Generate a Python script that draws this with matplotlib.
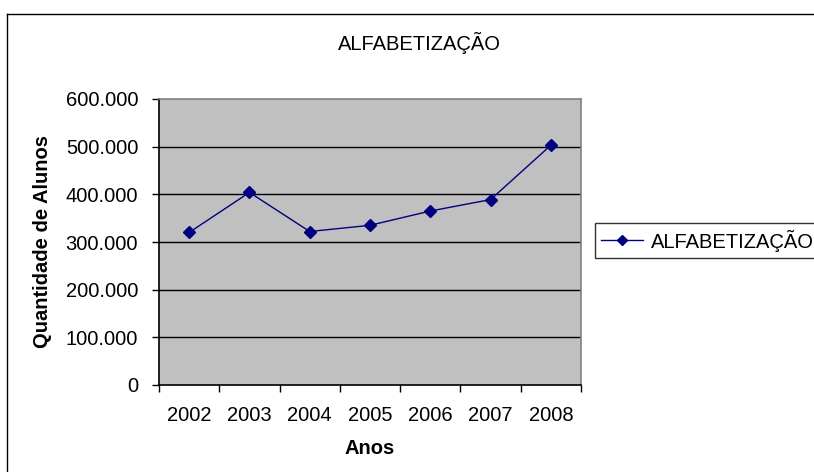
import matplotlib
matplotlib.use("Agg")
import matplotlib.pyplot as plt
from matplotlib.lines import Line2D
from matplotlib.ticker import FuncFormatter, FixedLocator

plt.rcParams['font.family'] = ['Liberation Sans', 'DejaVu Sans']

anos = ['2002', '2003', '2004', '2005', '2006', '2007', '2008']
alunos = [320000, 404000, 322000, 335000, 365000, 389000, 503000]
serie = 'ALFABETIZAÇÃO'
titulo = 'ALFABETIZAÇÃO'
yticks = [0, 100000, 200000, 300000, 400000, 500000, 600000]

W, H = 814, 472
FS = 14.5
fig = plt.figure(figsize=(W / 100, H / 100), dpi=100)
fig.patch.set_facecolor('white')

# outer chart frame (left and top edges visible)
fig.add_artist(Line2D([7 / W, 7 / W], [0, 1 - 14 / H], color='black', lw=1.0, transform=fig.transFigure))
fig.add_artist(Line2D([7 / W, 1], [1 - 14 / H, 1 - 14 / H], color='black', lw=1.0, transform=fig.transFigure))

ax = fig.add_axes([159 / W, 1 - 385 / H, 422 / W, 286 / H])
ax.set_facecolor('#C0C0C0')

x = list(range(len(anos)))
line, = ax.plot(x, alunos, color='#000080', lw=1.0, marker='D', markersize=6,
                markerfacecolor='#000080', markeredgecolor='#000080', label=serie, zorder=3)

ax.set_xlim(-0.5, len(anos) - 0.5)
ax.set_ylim(0, 600000)
ax.set_yticks(yticks)
ax.yaxis.set_major_formatter(FuncFormatter(lambda v, p: '0' if v == 0 else f'{int(v):,}'.replace(',', '.')))
ax.set_xticks(x)
ax.set_xticklabels(anos)
ax.xaxis.set_minor_locator(FixedLocator([i - 0.5 for i in range(len(anos) + 1)]))
ax.tick_params(axis='x', which='major', length=0, pad=15, labelsize=FS)
ax.tick_params(axis='x', which='minor', length=5, width=1, color='black', direction='out')
ax.tick_params(axis='y', length=5, width=1, color='black', direction='out', pad=10, labelsize=FS)

for v in yticks[1:-1]:
    ax.axhline(v, color='black', lw=1.0, zorder=1)

for s in ax.spines.values():
    s.set_color('#808080')
    s.set_linewidth(1.2)
ax.spines['left'].set_color('black')
ax.spines['bottom'].set_color('black')

fig.text(419 / W, 1 - 43 / H, titulo, ha='center', va='center', fontsize=FS)
fig.text(370 / W, 1 - 448 / H, 'Anos', ha='center', va='center', fontsize=FS, fontweight='bold')
fig.text(43 / W, 1 - 242 / H, 'Quantidade de Alunos', ha='center', va='center', rotation=90,
         fontsize=FS, fontweight='bold')

leg = fig.legend(handles=[line], loc='center left', bbox_to_anchor=(595 / W, 1 - 240.5 / H),
                 borderaxespad=0, frameon=True, fancybox=False, edgecolor='black', fontsize=FS,
                 handlelength=2.1, handletextpad=0.4, borderpad=0.3, markerscale=0.8)
leg.get_frame().set_linewidth(1.0)

fig.savefig('out.png', dpi=100)
